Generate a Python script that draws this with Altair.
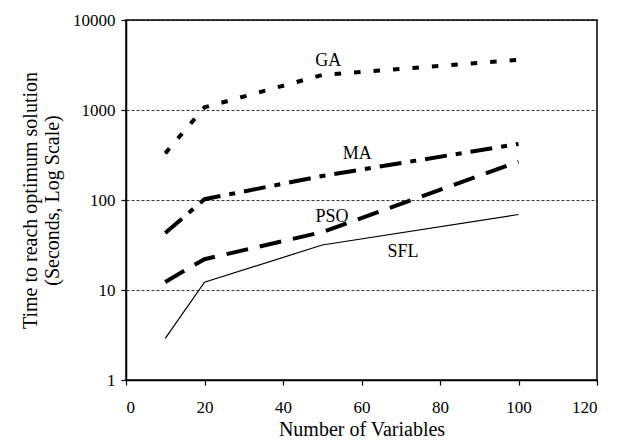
import altair as alt
import pandas as pd

# Data
ga_x = [10, 20, 50, 100]
ga_y = [330, 1070, 2450, 3600]
ma_x = [10, 20, 50, 100]
ma_y = [43, 102, 185, 420]
pso_x = [10, 15, 20, 50, 100]
pso_y = [12.3, 16.5, 22, 44, 267]
sfl_x = [10, 20, 50, 100]
sfl_y = [2.9, 12.2, 31.6, 69]

label_text = ["GA", "MA", "PSO", "SFL"]
label_x = [51.5, 58.9, 52.5, 70.6]
label_y = [3490, 324, 65, 26.7]

x_ticks = [0, 20, 40, 60, 80, 100, 120]
y_ticks = [1, 10, 100, 1000, 10000]

FONT = "Liberation Serif"

xscale = alt.Scale(domain=[0, 120], nice=False, zero=False)
yscale = alt.Scale(type="log", domain=[1, 10000], nice=False)

def series(xs, ys, name):
    return pd.DataFrame({"x": xs, "y": ys, "series": name})

def line(df, dash, width):
    kw = dict(color="black", strokeWidth=width)
    if dash:
        kw["strokeDash"] = dash
    return alt.Chart(df).mark_line(**kw).encode(
        x=alt.X("x:Q", scale=xscale,
                axis=alt.Axis(values=x_ticks, title="Number of Variables", grid=False,
                              format="d")),
        y=alt.Y("y:Q", scale=yscale,
                axis=alt.Axis(values=y_ticks, format="d",
                              title=["Time to reach optimum solution", "(Seconds, Log Scale)"],
                              grid=True, gridDash=[3, 2], gridColor="black", gridWidth=0.8)),
    )

ga = line(series(ga_x, ga_y, "GA"), [6.5, 13], 4)
ma = line(series(ma_x, ma_y, "MA"), [22, 9, 6, 9], 4)
pso = line(series(pso_x, pso_y, "PSO"), [22, 12], 4)
sfl = line(series(sfl_x, sfl_y, "SFL"), None, 1.2)

labels_df = pd.DataFrame({"t": label_text, "x": label_x, "y": label_y})
labels = alt.Chart(labels_df).mark_text(font=FONT, fontSize=18, color="black").encode(
    x=alt.X("x:Q", scale=xscale),
    y=alt.Y("y:Q", scale=yscale),
    text="t:N",
)

chart = alt.layer(ga, ma, pso, sfl, labels).properties(
    width=471,
    height=360,
    autosize=alt.AutoSizeParams(type="none"),
    padding={"left": 118, "top": 12, "right": 30, "bottom": 59},
    background="white",
).configure_view(
    stroke="black", strokeWidth=1.5
).configure_axis(
    domainColor="black", domainWidth=1.5, tickColor="black", tickSize=5, tickWidth=1.2,
    labelFont=FONT, labelFontSize=17, labelColor="black", labelPadding=6,
    titleFont=FONT, titleFontSize=20, titleColor="black", titleFontWeight="normal",
).configure_axisX(
    labelPadding=14, titlePadding=4,
).configure_axisY(
    titlePadding=10, titleLineHeight=22,
)

chart.save("out.html", embed_options={"renderer": "svg", "actions": False})
